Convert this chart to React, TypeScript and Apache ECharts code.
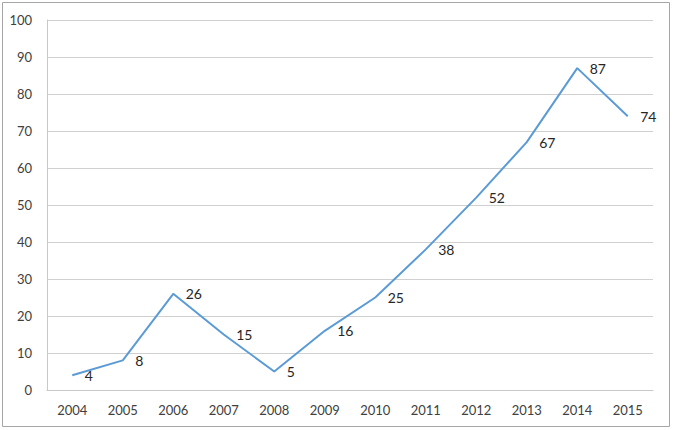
import React, { useEffect, useRef } from "react";
import * as echarts from "echarts";

const years = ["2004", "2005", "2006", "2007", "2008", "2009", "2010", "2011", "2012", "2013", "2014", "2015"];
const values = [4, 8, 26, 15, 5, 16, 25, 38, 52, 67, 87, 74];

export default function App() {
  const ref = useRef<HTMLDivElement>(null);
  useEffect(() => {
    document.body.style.margin = "0";
    const chart = echarts.init(ref.current!, null, { renderer: "svg" });
    const font = "Lato, 'Open Sans', sans-serif";
    chart.setOption({
      animation: false,
      backgroundColor: "#ffffff",
      graphic: [
        {
          type: "rect",
          shape: { x: 2.5, y: 2.5, width: 667, height: 424 },
          style: { fill: "none", stroke: "#a6a6a6", lineWidth: 1 },
        },
      ],
      grid: { left: 47, right: 22, top: 20, bottom: 40 },
      xAxis: {
        type: "category",
        data: years,
        boundaryGap: true,
        axisLine: { show: true, lineStyle: { color: "#c8c8c8" } },
        axisTick: { show: false },
        axisLabel: { color: "#404040", fontSize: 13, fontFamily: font, margin: 13 },
      },
      yAxis: {
        type: "value",
        min: 0,
        max: 100,
        interval: 10,
        axisLine: { show: true, lineStyle: { color: "#c8c8c8" } },
        axisTick: { show: false },
        splitLine: { lineStyle: { color: "#d0d0d0" } },
        axisLabel: { color: "#404040", fontSize: 13, fontFamily: font, margin: 15 },
      },
      series: [
        {
          type: "line",
          data: values,
          showSymbol: true,
          showAllSymbol: true,
          symbol: "circle",
          symbolSize: 1,
          itemStyle: { color: "rgba(0,0,0,0)", borderWidth: 0 },
          lineStyle: { color: "#5b9bd5", width: 2 },
          label: {
            show: true,
            position: "right",
            distance: 12,
            offset: [0, 0],
            color: "#262626",
            opacity: 1,
            fontSize: 14,
            fontFamily: font,
          },
        },
      ],
    });
    return () => chart.dispose();
  }, []);
  return <div ref={ref} style={{ width: 675, height: 430 }} />;
}
